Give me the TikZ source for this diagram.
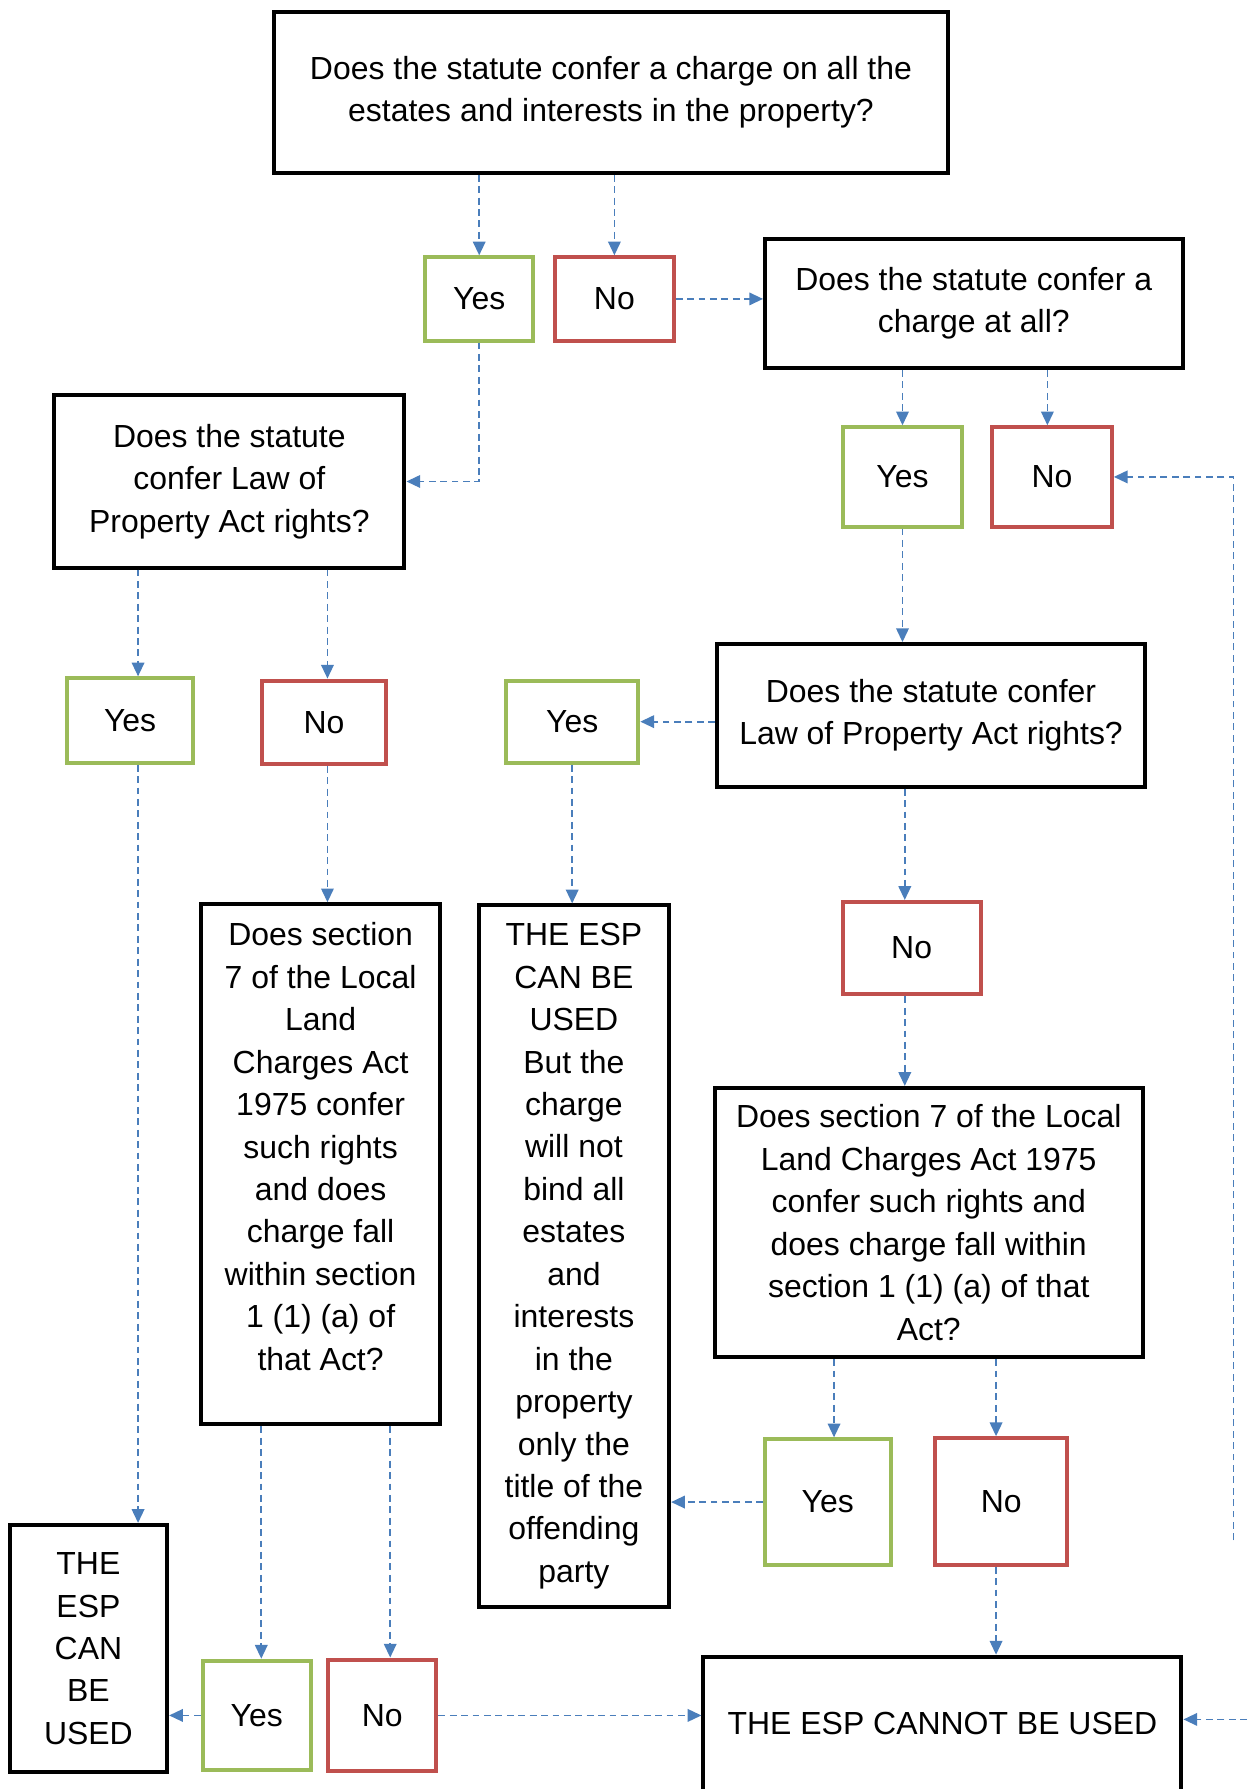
\documentclass[tikz,border=0pt]{standalone}
\usepackage{fontspec}
\setmainfont{Liberation Sans}
\usetikzlibrary{arrows.meta}
\definecolor{arrowblue}{HTML}{4A7EBB}
\definecolor{yesgreen}{HTML}{9BBB59}
\definecolor{nored}{HTML}{C0504D}
\tikzset{
  txt/.style={font=\fontsize{28}{37.2}\selectfont, align=center, inner sep=0pt},
  qbox/.style={txt, draw=black, line width=3.5pt},
  yesbox/.style={txt, draw=yesgreen, line width=3.5pt},
  nobox/.style={txt, draw=nored, line width=3.5pt},
  conn/.style={draw=arrowblue, line width=1.5pt, dash pattern=on 6pt off 4pt,
    -{Triangle[length=12pt,width=11pt]}},
  sz/.style n args={2}{minimum width=#1pt, minimum height=#2pt}
}
\begin{document}
\begin{tikzpicture}[x=1pt,y=-1pt]
\useasboundingbox (0,0) rectangle (1093,1568);
\fill[white] (0,0) rectangle (1093,1568);
\clip (0,0) rectangle (1093,1568);

% question boxes
\node[qbox, sz={590}{141}] (Q1) at (535.5,81) {Does the statute confer a charge on all the\\estates and interests in the property?};
\node[qbox, sz={366}{113}] (Q2) at (853.5,266) {Does the statute confer a\\charge at all?};
\node[qbox, sz={307}{151}] (Q3) at (201,422) {Does the statute\\confer Law of\\Property Act rights?};
\node[qbox, sz={375}{125}] (Q4) at (816,627) {Does the statute confer\\Law of Property Act rights?};
\node[qbox, sz={209}{456}] (Q5) at (281,1020.5) {\begin{tabular}{@{}c@{}}Does section\\7 of the Local\\Land\\Charges Act\\1975 confer\\such rights\\and does\\charge fall\\within section\\1 (1) (a) of\\that Act?\\[26pt]\end{tabular}};
\node[qbox, sz={167}{615}] (ESP1) at (503,1101) {THE ESP\\CAN BE\\USED\\But the\\charge\\will not\\bind all\\estates\\and\\interests\\in the\\property\\only the\\title of the\\offending\\party};
\node[qbox, sz={375}{236}] (Q6) at (814,1071.5) {Does section 7 of the Local\\Land Charges Act 1975\\confer such rights and\\does charge fall within\\section 1 (1) (a) of that\\Act?};
\node[qbox, sz={419}{170}] (CANNOT) at (826,1537) {\raisebox{53pt}{THE ESP CANNOT BE USED}};
\node[qbox, sz={138}{217}] (CAN) at (77.5,1445) {THE\\ESP\\CAN\\BE\\USED};

% yes / no boxes
\node[yesbox, sz={95}{73}] (Yes1) at (420,262) {Yes};
\node[nobox, sz={104}{73}] (No1) at (538.5,262) {No};
\node[yesbox, sz={105}{87}] (Yes2) at (791,418) {Yes};
\node[nobox, sz={105}{87}] (No2) at (922,418) {No};
\node[yesbox, sz={111}{74}] (Yes3) at (114,631.5) {Yes};
\node[nobox, sz={109}{73}] (No3) at (284,633) {No};
\node[yesbox, sz={116}{72}] (Yes4) at (501.5,632.5) {Yes};
\node[nobox, sz={121}{81}] (No4) at (799,831) {No};
\node[yesbox, sz={110}{110}] (Yes5) at (725.5,1316.5) {Yes};
\node[nobox, sz={116}{111}] (No5) at (877.5,1316) {No};
\node[yesbox, sz={95}{96}] (Yes6) at (225,1503.5) {Yes};
\node[nobox, sz={95}{98}] (No6) at (335,1503.5) {No};

% helper columns
\coordinate (xA) at (121,0);
\coordinate (xB) at (793,0);
\coordinate (xC) at (918,0);
\coordinate (xD) at (731,0);
\coordinate (xE) at (873,0);
\coordinate (xF) at (229,0);
\coordinate (xG) at (342,0);
\coordinate (xH) at (287,0);
\coordinate (rEnd) at (1081,1350);
\coordinate (rIn) at (1093,1507);

% connectors
\draw[conn] (Q1.south -| Yes1.north) -- (Yes1.north);
\draw[conn] (Q1.south -| No1.north) -- (No1.north);
\draw[conn] (No1.east) -- (No1.east -| Q2.west);
\draw[conn] (Q2.south -| Yes2.north) -- (Yes2.north);
\draw[conn] (Q2.south -| xC) -- (No2.north -| xC);
\draw[conn] (Yes1.south) |- (Q3.east);
\draw[conn] (Q3.south -| xA) -- (Yes3.north -| xA);
\draw[conn] (Q3.south -| xH) -- (No3.north -| xH);
\draw[conn] (Yes3.south -| xA) -- (CAN.north -| xA);
\draw[conn] (Yes2.south) -- (Yes2.south |- Q4.north);
\draw[conn] (Yes4.east -| Q4.west) -- (Yes4.east);
\draw[conn] (Q4.south -| xB) -- (No4.north -| xB);
\draw[conn] (No3.south -| xH) -- (Q5.north -| xH);
\draw[conn] (Yes4.south) -- (Yes4.south |- ESP1.north);
\draw[conn] (No4.south -| xB) -- (Q6.north -| xB);
\draw[conn] (Q6.south -| xD) -- (Yes5.north -| xD);
\draw[conn] (Q6.south -| xE) -- (No5.north -| xE);
\draw[conn] (Yes5.west) -- (Yes5.west -| ESP1.east);
\draw[conn] (No5.south -| xE) -- (CANNOT.north -| xE);
\draw[conn] (Q5.south -| xF) -- (Yes6.north -| xF);
\draw[conn] (Q5.south -| xG) -- (No6.north -| xG);
\draw[conn] (Yes6.west) -- (Yes6.west -| CAN.east);
\draw[conn] (No6.east) -- (No6.east -| CANNOT.west);
\draw[conn] (rEnd) |- (No2.east);
\draw[conn] (rIn) -- (rIn -| CANNOT.east);
\end{tikzpicture}
\end{document}
